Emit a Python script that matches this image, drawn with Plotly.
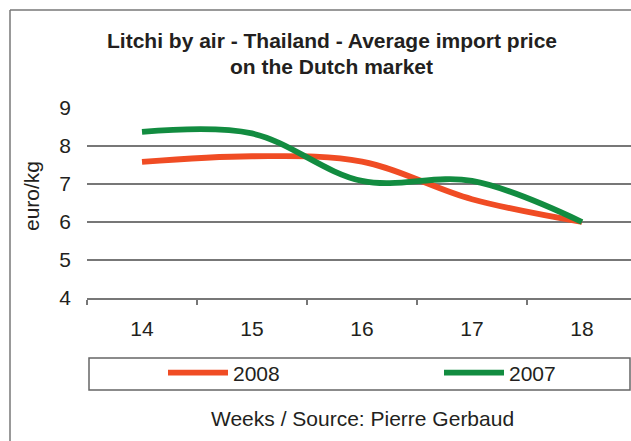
import plotly.graph_objects as go

# ---- data ----
weeks = [14, 15, 16, 17, 18]
week_labels = ["14", "15", "16", "17", "18"]
price_2008 = [7.58, 7.73, 7.59, 6.60, 6.00]
price_2007 = [8.37, 8.33, 7.08, 7.08, 6.00]
y_ticks = [4, 5, 6, 7, 8, 9]

# ---- geometry helpers (pixel -> paper) ----
W, H = 631, 441
L, R, T, B = 87, 0, 108, 143
PW, PH = W - L - R, H - T - B


def px(x):
    return (x - L) / PW


def py(y):
    return (H - B - y) / PH


RED = "rgb(240,76,36)"
GREEN = "rgb(18,140,64)"
GRID = "#777777"
TXT = "#231f20"
FONT = "Liberation Sans, Arial, sans-serif"

fig = go.Figure()
fig.add_trace(go.Scatter(
    x=weeks, y=price_2008, name="2008", mode="lines",
    line=dict(color=RED, width=5.8, shape="spline", smoothing=1.0),
    legend="legend",
))
fig.add_trace(go.Scatter(
    x=weeks, y=price_2007, name="2007", mode="lines",
    line=dict(color=GREEN, width=5.8, shape="spline", smoothing=1.0),
    legend="legend2",
))

x_range = [13.5, 13.5 + PW / 110.0]

fig.update_layout(
    width=W, height=H, autosize=False,
    margin=dict(l=L, r=R, t=T, b=B, pad=0),
    paper_bgcolor="white", plot_bgcolor="white",
    font=dict(family=FONT, size=21, color=TXT),
    xaxis=dict(
        range=x_range, tickvals=weeks, ticktext=week_labels,
        ticks="", showgrid=False, zeroline=False,
        showline=True, linecolor=GRID, linewidth=1.5,
        ticklabelstandoff=11,
        tickfont=dict(size=21, color=TXT),
        minor=dict(tickvals=[13.5, 14.5, 15.5, 16.5, 17.5], ticks="outside",
                   ticklen=5, tickwidth=1.5, tickcolor=GRID, showgrid=False),
    ),
    yaxis=dict(
        range=[4, 9], tickvals=y_ticks, ticks="", showgrid=True,
        gridcolor=GRID, gridwidth=1.5, zeroline=False, showline=False,
        ticklabelstandoff=15, tickfont=dict(size=21, color=TXT),
    ),
    legend=dict(
        x=px(163), y=py(373), xanchor="left", yanchor="middle",
        orientation="h", bgcolor="rgba(0,0,0,0)", borderwidth=0,
        font=dict(size=21, color=TXT), itemwidth=60,
    ),
    legend2=dict(
        x=px(439), y=py(373), xanchor="left", yanchor="middle",
        orientation="h", bgcolor="rgba(0,0,0,0)", borderwidth=0,
        font=dict(size=21, color=TXT), itemwidth=60,
    ),
    showlegend=True,
)

# frame (left and top edges visible; the rest lies outside the picture)
fig.add_shape(type="line", xref="paper", yref="paper",
              x0=px(10), x1=px(10), y0=py(10), y1=py(450),
              line=dict(color="#777777", width=1.5))
fig.add_shape(type="line", xref="paper", yref="paper",
              x0=px(10), x1=px(650), y0=py(10), y1=py(10),
              line=dict(color="#777777", width=1.5))
# legend box
fig.add_shape(type="rect", xref="paper", yref="paper",
              x0=px(89), x1=px(630), y0=py(358), y1=py(390),
              line=dict(color="#666666", width=1.5), fillcolor="rgba(0,0,0,0)")

# titles
fig.add_annotation(text="<b>Litchi by air - Thailand - Average import price</b>",
                   xref="paper", yref="paper", x=px(331.5), y=py(40),
                   xanchor="center", yanchor="middle", showarrow=False,
                   font=dict(size=21, color=TXT))
fig.add_annotation(text="<b>on the Dutch market</b>",
                   xref="paper", yref="paper", x=px(331.5), y=py(66),
                   xanchor="center", yanchor="middle", showarrow=False,
                   font=dict(size=21, color=TXT))
fig.add_annotation(text="euro/kg", textangle=-90,
                   xref="paper", yref="paper", x=px(31), y=py(196),
                   xanchor="center", yanchor="middle", showarrow=False,
                   font=dict(size=21, color=TXT))
fig.add_annotation(text="Weeks / Source: Pierre Gerbaud",
                   xref="paper", yref="paper", x=px(362), y=py(418),
                   xanchor="center", yanchor="middle", showarrow=False,
                   font=dict(size=21, color=TXT))

fig.write_html(
    "out.html",
    config={"displayModeBar": False},
    post_script="document.body.style.margin='0';document.body.style.padding='0';"
                "document.documentElement.style.overflow='hidden';",
)
